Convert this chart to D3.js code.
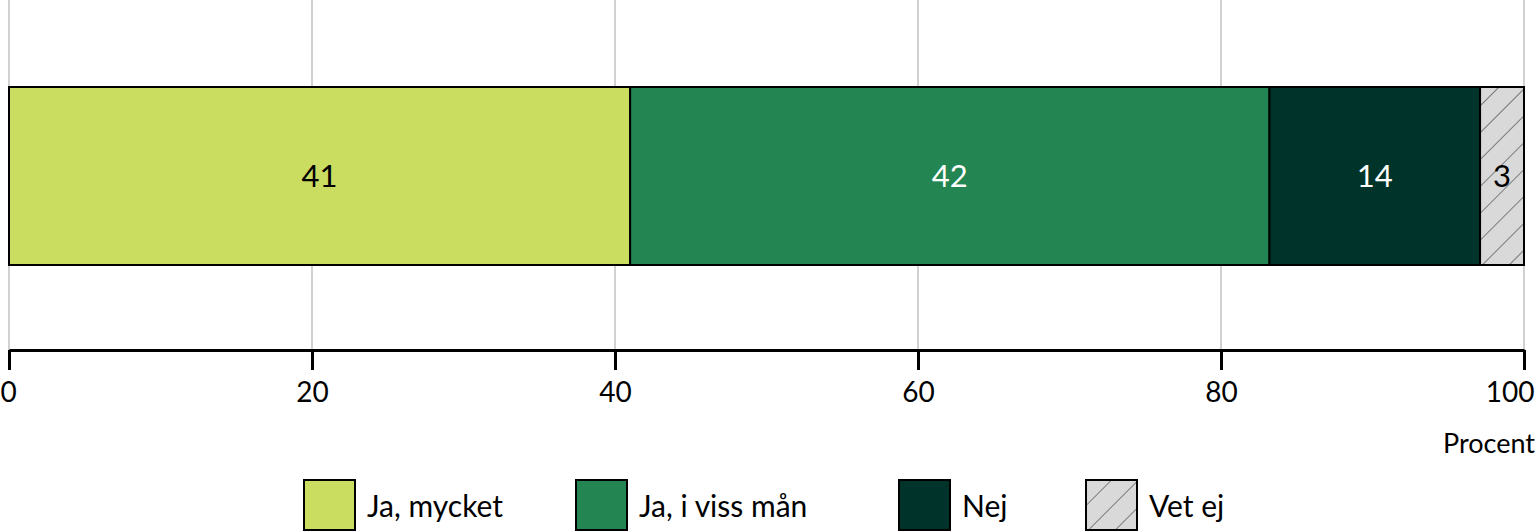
<!DOCTYPE html>
<html><head><meta charset="utf-8">
<script src="https://cdn.jsdelivr.net/npm/d3@7"></script>
<style>body{margin:0;background:#fff}svg{display:block}text{font-family:Lato,"Noto Sans",sans-serif}</style>
</head><body><svg id="c" width="1536" height="532"></svg>
<script>
const categories = ["Ja, mycket","Ja, i viss mån","Nej","Vet ej"];
const values = [41.0,42.2,13.9,2.9];
const colors = ["#cbdd61","#238551","#00332a","url(#hatch)"];
const labelColors = ["#000","#fff","#fff","#000"];
const ticks = [0,20,40,60,80,100];

const svg = d3.select("#c");
const defs = svg.append("defs");
const pat = defs.append("pattern").attr("id","hatch").attr("patternUnits","userSpaceOnUse")
  .attr("width",19).attr("height",19).attr("patternTransform","rotate(45)");
pat.append("rect").attr("width",19).attr("height",19).attr("fill","#d9d9d9");
pat.append("line").attr("x1",0).attr("y1",0).attr("x2",0).attr("y2",19).attr("stroke","#7a7a7a").attr("stroke-width",2);

const x = d3.scaleLinear().domain([0,100]).range([9,1524]);
const y0 = 87, y1 = 265, axisY = 350;

// gridlines
svg.append("g").selectAll("line").data(ticks).join("line")
  .attr("x1",d=>x(d)).attr("x2",d=>x(d)).attr("y1",0).attr("y2",axisY)
  .attr("stroke","#b3b3b3").attr("stroke-width",1.2);

// stacked bar
let cum = 0;
const segs = values.map((v,i)=>{const s={i,v,start:cum,end:cum+v};cum+=v;return s;});
const g = svg.append("g");
g.selectAll("rect").data(segs).join("rect")
  .attr("x",d=>x(d.start)).attr("width",d=>x(d.end)-x(d.start))
  .attr("y",y0).attr("height",y1-y0)
  .attr("fill",d=>colors[d.i]).attr("stroke","#000").attr("stroke-width",2);
g.selectAll("text").data(segs).join("text")
  .attr("x",d=>(x(d.start)+x(d.end))/2).attr("y",(y0+y1)/2+11)
  .attr("text-anchor","middle").attr("font-size",31).attr("fill",d=>labelColors[d.i])
  .text(d=>Math.round(d.v));

// axis
const ax = svg.append("g").attr("transform",`translate(0,${axisY})`)
  .call(d3.axisBottom(x).tickValues(ticks).tickSize(20).tickSizeOuter(0).tickPadding(12));
ax.select(".domain").attr("stroke","#000").attr("stroke-width",3);
ax.selectAll(".tick line").attr("stroke","#000").attr("stroke-width",3);
ax.selectAll(".tick text").attr("font-size",28).attr("fill","#000")
  .attr("font-family","Lato,'Noto Sans',sans-serif")
  .attr("text-anchor",d=>d===100?"end":(d===0?"start":"middle"))
  .attr("dx",d=>d===100?10:(d===0?-9:0));

svg.append("text").attr("x",1535).attr("y",453).attr("text-anchor","end")
  .attr("font-size",27).text("Procent");

// legend
const legX = [303,575,898,1085];
const leg = svg.append("g").selectAll("g").data(categories).join("g")
  .attr("transform",(d,i)=>`translate(${legX[i]},479)`);
leg.append("rect").attr("x",1).attr("y",1).attr("width",51).attr("height",50)
  .attr("fill",(d,i)=>colors[i]).attr("stroke","#000").attr("stroke-width",2);
leg.append("text").attr("x",64).attr("y",38).attr("font-size",30).text(d=>d);
</script></body></html>
